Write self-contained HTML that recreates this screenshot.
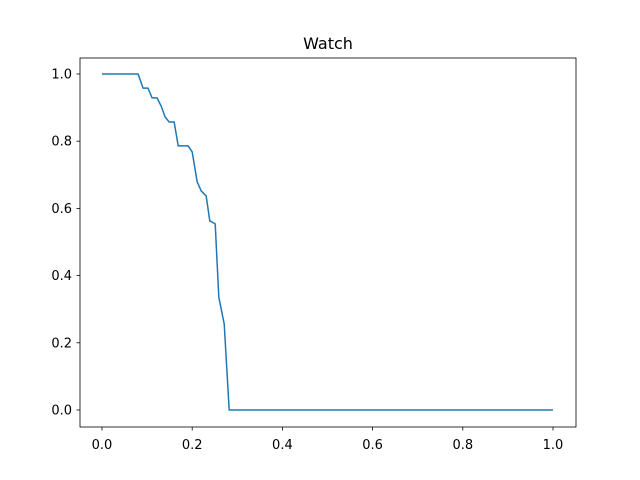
<!DOCTYPE html>
<html><head><meta charset="utf-8"><style>body{margin:0;background:#fff}svg{display:block;font-family:"DejaVu Sans","Liberation Sans",sans-serif}</style></head>
<body>
<svg id="chart" width="640" height="480">
<rect width="640" height="480" fill="#fff"/>
<text x="328" y="49" font-size="16" text-anchor="middle">Watch</text>
<g id="axes"></g>
<polyline id="line" fill="none" stroke="#1f77b4" stroke-width="1.5" stroke-linejoin="round"/>
<rect x="80" y="58" width="496" height="369" fill="none" stroke="#000" stroke-width="0.8"/>
</svg>
<script>
const xValues=[0,0.080,0.091,0.102,0.111,0.122,0.131,0.140,0.149,0.160,0.169,0.191,0.200,0.211,0.220,0.231,0.239,0.251,0.259,0.271,0.282,1.0];
const yValues=[1,1,0.958,0.958,0.929,0.929,0.905,0.872,0.857,0.857,0.786,0.786,0.768,0.679,0.652,0.637,0.563,0.554,0.336,0.256,0,0];
const xTicks=[0,0.2,0.4,0.6,0.8,1.0];
const yTicks=[0,0.2,0.4,0.6,0.8,1.0];
const sx=v=>102+v*451, sy=v=>410-v*336;
const ns='http://www.w3.org/2000/svg', g=document.getElementById('axes');
function mk(t,a){const e=document.createElementNS(ns,t);for(const k in a)e.setAttribute(k,a[k]);g.appendChild(e);return e;}
xTicks.forEach(v=>{
 const l=mk('line',{x1:sx(v),x2:sx(v),y1:427,y2:430.5,stroke:'#000','stroke-width':0.8});
 
 
 const t=mk('text',{x:sx(v),y:449,'font-size':13,'text-anchor':'middle'});t.textContent=v.toFixed(1);
 
 
});
yTicks.forEach(v=>{
 const l=mk('line',{x1:76.5,x2:80,y1:sy(v),y2:sy(v),stroke:'#000','stroke-width':0.8});
 
 
 const t=mk('text',{x:72,y:sy(v)+4.5,'font-size':13,'text-anchor':'end'});t.textContent=v.toFixed(1);
 
 
});
document.getElementById('line').setAttribute('points',xValues.map((x,i)=>sx(x)+','+sy(yValues[i])).join(' '));
</script>
</body></html>
